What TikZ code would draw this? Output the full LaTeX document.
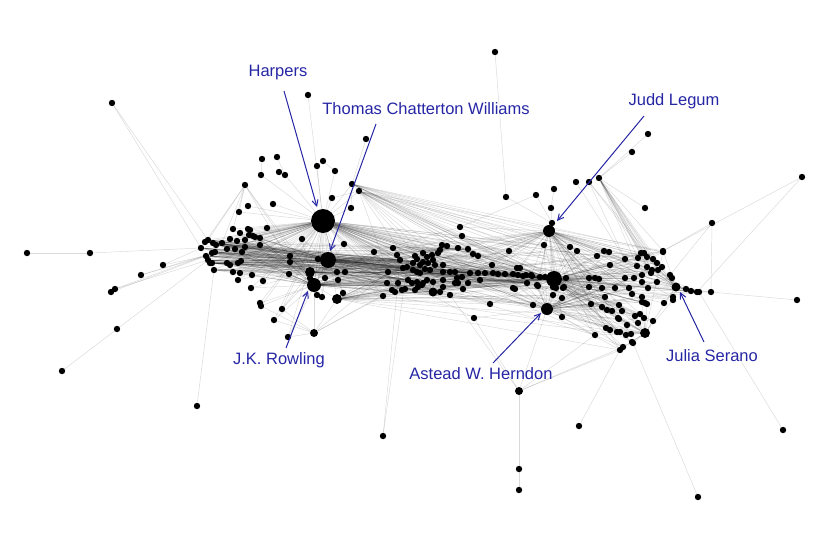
\documentclass[tikz,border=0pt]{standalone}
\usepackage{fontspec}
\setmainfont{Liberation Sans}
\usetikzlibrary{arrows.meta}
\pgfdeclarelayer{bg}
\pgfsetlayers{bg,main}
\definecolor{lab}{RGB}{38,38,165}
\tikzset{
  dot/.style={circle,fill=black,inner sep=0pt,minimum size=6.4pt},
  hub/.style={circle,fill=black,inner sep=0pt,minimum size=#1},
  edge/.style={draw=black,opacity=0.15,line width=0.45pt},
  lbl/.style={text=lab,font=\fontsize{16.5}{19}\selectfont,inner sep=0pt},
  arr/.style={draw=lab,line width=1pt,-{Straight Barb[length=6pt,width=6pt]}}
}
\begin{document}
\begin{tikzpicture}[x=1pt,y=-1pt]
\path[use as bounding box] (0,0) rectangle (830,542);
% hubs
\node[hub=24pt] (hH) at (323,221) {};
\node[hub=16pt] (hT) at (328,260) {};
\node[hub=14pt] (hJ) at (314,285) {};
\node[hub=10pt] (hK) at (337,299) {};
\node[hub=10pt] (hQ) at (310,272) {};
\node[hub=12pt] (hG) at (549,231) {};
\node[hub=16pt] (hC) at (554,279) {};
\node[hub=12pt] (hA) at (547,309) {};
\node[hub=9pt] (hS) at (676,287) {};
\node[hub=10pt] (hW) at (645,333) {};
\node[hub=9pt] (hX) at (433,292) {};
\node[hub=8pt] (hY) at (519,391) {};
\node[hub=8pt] (hZ) at (314,333) {};
% left cluster
\foreach \p [count=\i] in {(201,248),(205,242),(208,240),(213,243),(216,245),(215,252),(212,253),(206,256),(208,260),(212,263),(214,270),(210,263),(222,243),(230,239),(233,229),(240,233),(248,229),(249,235),(253,236),(260,238),(267,228),(237,241),(245,240),(260,245),(227,249),(235,249),(242,252),(245,247),(227,263),(230,265),(238,263),(241,261),(233,272),(240,273),(252,275),(238,280),(251,288),(263,281),(261,306),(282,309),(274,320),(288,337),(290,256),(290,262),(289,274),(302,239),(318,259),(310,278),(325,278),(337,272),(338,280),(345,272),(344,244),(343,293),(317,295),(322,297),(260,303),(255,237),(250,230)}
  \node[dot] (L\i) at \p {};
% middle cluster
\foreach \p [count=\i] in {(374,252),(397,255),(400,260),(415,256),(417,259),(423,253),(427,257),(432,255),(433,260),(428,263),(423,262),(420,265),(413,263),(435,265),(443,265),(430,270),(425,269),(407,267),(403,268),(388,272),(413,270),(417,272),(420,273),(443,272),(450,272),(455,272),(470,273),(478,273),(485,273),(492,265),(493,273),(498,274),(505,274),(513,274),(518,275),(523,276),(532,276),(520,268),(517,268),(540,277),(387,283),(398,283),(408,280),(412,283),(417,282),(423,283),(427,280),(433,282),(443,280),(457,278),(462,277),(468,283),(458,283),(455,283),(392,290),(395,292),(402,290),(405,289),(415,290),(418,287),(422,285),(440,292),(443,287),(450,295),(463,289),(480,280),(527,283),(513,288),(515,289),(537,285),(383,296),(462,236),(509,251),(458,248),(468,249),(473,254),(478,256),(442,245),(447,246),(440,250),(438,253),(393,248),(490,304),(533,305)}
  \node[dot] (M\i) at \p {};
% right cluster
\foreach \p [count=\i] in {(544,245),(570,247),(577,251),(604,251),(609,252),(597,256),(625,259),(610,265),(641,253),(644,253),(647,257),(663,251),(638,258),(637,266),(653,259),(657,263),(662,267),(647,267),(652,270),(658,270),(651,273),(526,275),(531,275),(545,277),(566,278),(589,278),(595,278),(599,279),(625,278),(634,278),(642,275),(642,282),(657,282),(670,275),(672,278),(686,289),(691,291),(697,292),(699,292),(711,292),(673,297),(664,303),(538,286),(564,287),(556,288),(553,295),(562,298),(589,287),(602,288),(615,288),(629,288),(648,288),(605,297),(632,294),(642,297),(645,303),(591,304),(602,307),(607,310),(612,311),(619,305),(618,318),(627,325),(635,316),(640,314),(644,318),(638,323),(653,321),(606,328),(610,330),(617,332),(620,332),(595,335),(632,342),(620,350),(623,347),(562,317),(673,300),(663,252),(647,304),(642,302),(626,335),(631,334),(633,343),(619,319),(622,311),(553,287),(563,288)}
  \node[dot] (R\i) at \p {};
% upper right group
\foreach \p [count=\i] in {(599,178),(589,182),(576,182),(536,195),(554,189),(551,208),(552,223),(645,208)}
  \node[dot] (P\i) at \p {};
% upper left group
\foreach \p [count=\i] in {(262,159),(277,157),(261,175),(279,172),(285,175),(317,166),(323,161),(335,171),(245,185),(248,206),(239,212),(273,204),(332,198),(352,184),(359,191),(351,208)}
  \node[dot] (U\i) at \p {};
% outlying nodes
\foreach \p [count=\i] in {(495,52),(112,103),(27,253),(90,253),(163,265),(141,275),(111,292),(115,289),(117,329),(62,371),(197,406),(383,436),(519,469),(519,490),(579,426),(698,497),(783,430),(797,300),(802,177),(712,223),(648,134),(632,152),(366,139),(308,95),(474,318),(460,227),(506,197)}
  \node[dot] (O\i) at \p {};
% labels
\node[lbl] (tH) at (278,73) {Harpers};
\node[lbl] (tT) at (426,109) {Thomas Chatterton Williams};
\node[lbl] (tG) at (674,101) {Judd Legum};
\node[lbl] (tJ) at (279,360) {J.K. Rowling};
\node[lbl] (tA) at (481,374) {Astead W. Herndon};
\node[lbl] (tS) at (712,356) {Julia Serano};
\coordinate (aH1) at (284,91); \coordinate (aH2) at (317,207);
\coordinate (aT1) at (376,124); \coordinate (aT2) at (330,251);
\coordinate (aG1) at (644,116); \coordinate (aG2) at (557,221);
\coordinate (aJ1) at (286,348); \coordinate (aJ2) at (308,291);
\coordinate (aA1) at (493,363); \coordinate (aA2) at (541,313);
\coordinate (aS1) at (704,342); \coordinate (aS2) at (680,292);
\draw[arr] (aH1) -- (aH2);
\draw[arr] (aT1) -- (aT2);
\draw[arr] (aG1) -- (aG2);
\draw[arr] (aJ1) -- (aJ2);
\draw[arr] (aA1) -- (aA2);
\draw[arr] (aS1) -- (aS2);
% edges
\begin{pgfonlayer}{bg}
\foreach \h/\g/\lst in {hH/L/{1,...,59},hH/M/{1,3,...,83},hH/R/{1,6,...,86},
  hT/L/{2,4,...,58},hT/M/{2,5,...,83},hT/R/{3,10,...,87},
  hJ/L/{1,3,...,59},hJ/M/{1,4,...,84},hJ/R/{2,9,...,86},
  hK/M/{3,7,...,83},hK/R/{5,12,...,85},
  hQ/L/{1,4,...,58},hQ/M/{4,8,...,84},
  hC/M/{1,...,84},hC/R/{1,...,88},
  hG/R/{1,3,...,87},hG/M/{2,6,...,82},
  hA/R/{1,3,...,87},hA/M/{5,10,...,80},
  hS/R/{9,...,21},hS/R/{31,...,42},
  hW/R/{57,...,86},
  hX/M/{41,...,66},
  U14/R/{2,9,...,86},U15/M/{6,16,...,76},U15/R/{4,12,...,84},
  P1/R/{9,...,21},P2/R/{7,11,15},hZ/M/{71,55,20}}
  {\foreach \i in \lst {\draw[edge] (\h) -- (\g\i);}}
\foreach \i in {1,...,12} {
  \foreach \j in {3,11,...,81} {\draw[edge] (L\i) -- (M\j);}
  \draw[edge] (L\i) -- (hC);
}
\foreach \a/\b in {O2/L3,O2/L1,O3/O4,O4/L1,O5/L1,O5/L8,O6/L7,O6/L8,O7/L8,O8/L9,O8/L7,O9/O10,O9/L9,O11/L11,
  O12/M3,O12/M18,O13/O14,O13/hY,O15/R75,O16/R84,O17/R39,O18/R40,O19/R12,O19/R38,O20/R40,O20/R12,O20/R34,
  O21/P1,O22/P1,O23/U14,O24/hH,O25/hA,O25/hY,O25/M20,O26/hG,O26/M1,O27/O1,O27/P7,P4/O26,P4/P7,P5/P6,P6/P7,P7/hG,
  P3/R7,P8/P1,hY/hA,hY/R75,hY/R76,hY/R73,hY/M64,hZ/hJ,hZ/hK,hZ/L40,hZ/L42,hZ/L39,hZ/L41,
  U1/U3,U2/U5,U4/U5,U3/hH,U5/hH,U6/hH,U7/U8,U8/hH,U9/L15,U9/L1,U9/L3,U9/L13,U9/U11,U9/hJ,U9/L44,U9/hQ,
  U10/hH,U11/hH,U12/hH,U13/hH,U14/hH,U15/hH,U16/hH,U14/U16,U15/U13,U14/U15,
  hH/hT,hH/hJ,hT/hJ,hJ/hK,hH/hK,hG/hC,hC/hA,hC/hS,hA/hW,hS/hW}
  {\draw[edge] (\a) -- (\b);}
\end{pgfonlayer}
\end{tikzpicture}
\end{document}
